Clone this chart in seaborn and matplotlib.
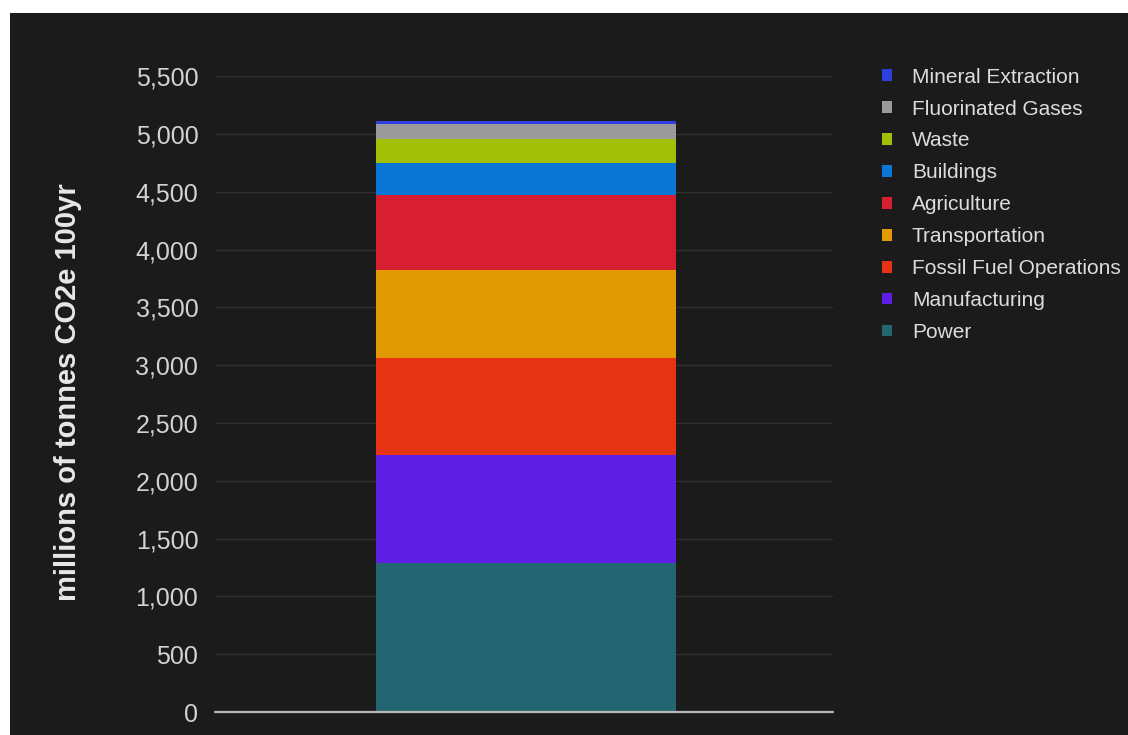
# sector emissions stacked bar, dark theme
import pandas as pd
import seaborn as sns
import matplotlib.pyplot as plt
from matplotlib.patches import Patch, Rectangle

sectors = ["Power", "Manufacturing", "Fossil Fuel Operations", "Transportation",
           "Agriculture", "Buildings", "Waste", "Fluorinated Gases", "Mineral Extraction"]
emissions = [1290, 936, 836, 758, 649, 280, 208, 132, 20]
colors = ["#236571", "#5e1fe4", "#e53314", "#e29a04", "#d71f31",
          "#0a77d7", "#a2c007", "#9b9b9b", "#2f40e1"]
yticks = list(range(0, 5501, 500))

bg = "#1b1b1b"
sns.set_theme(style="dark")
plt.rcParams["font.family"] = ["Liberation Sans", "DejaVu Sans"]

df = pd.DataFrame({"sector": sectors, "emissions": emissions, "color": colors})
df["total"] = df["emissions"].cumsum()
df["group"] = ""

fig = plt.figure(figsize=(11.28, 7.35), dpi=100, facecolor="white")
fig.patches.append(Rectangle((10 / 1128, 0), 1, (735 - 13) / 735,
                             transform=fig.transFigure, facecolor=bg,
                             edgecolor="none", zorder=-1))
ax = fig.add_axes([215 / 1128, 23 / 735, 618 / 1128, 635.8 / 735])
ax.set_facecolor(bg)

# stack by drawing cumulative totals, tallest first
for i in reversed(range(len(df))):
    row = df.iloc[[i]]
    sns.barplot(data=row, x="group", y="total", color=row["color"].iloc[0],
                saturation=1, width=1.0, linewidth=0, ax=ax, zorder=3)

ax.set_xlim(-1.037, 1.023)
ax.set_ylim(0, 5500)
ax.set_yticks(yticks)
ax.set_yticklabels([f"{v:,}" for v in yticks])
ax.set_xticks([])
ax.set_xlabel("")
ax.yaxis.grid(True, color="#303030", linewidth=1)
ax.set_axisbelow(True)
ax.axhline(0, color="#b8b8b8", linewidth=1.6, clip_on=False, zorder=4)
for s in ax.spines.values():
    s.set_visible(False)
ax.tick_params(axis="y", left=False, pad=6, labelsize=18, labelcolor="#d2d2d2")

ax.set_ylabel("millions of tonnes CO2e 100yr", fontsize=21, fontweight="bold",
              color="#e8e8e8")
ax.yaxis.set_label_coords(-0.216, 0.503)

handles = [Patch(facecolor=c, edgecolor="none") for c in reversed(colors)]
fig.legend(handles, list(reversed(sectors)), loc="upper left",
           bbox_to_anchor=(0.782, 0.908), frameon=False, fontsize=15,
           labelcolor="#dddddd", handlelength=0.48, handleheight=0.48,
           handletextpad=0.95, labelspacing=0.62, borderaxespad=0, borderpad=0)

fig.savefig("out.png", dpi=100, facecolor=fig.get_facecolor())
